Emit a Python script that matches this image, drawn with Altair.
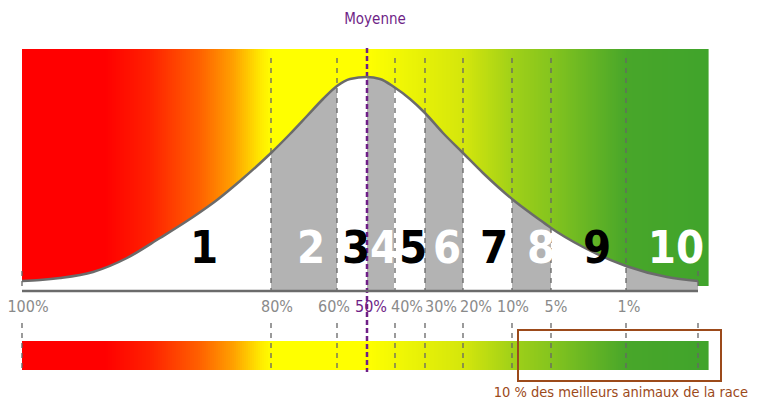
import altair as alt
import pandas as pd

# ---- data (x: horizontal position units, y: height above baseline) ----
curve_px = [22, 40, 60, 93, 127, 160, 193, 217, 240, 257, 271, 290, 307, 323, 337, 350, 367,
            380, 394, 410, 425, 443, 463, 483, 512, 540, 551, 583, 626, 667, 698]
curve_py = [281, 280, 278, 272, 258, 238, 217, 200, 181, 166, 153, 134, 116, 99, 86, 79, 77,
            79, 87, 99, 113, 133, 153, 173, 199, 220, 228, 247, 266, 277, 281]
curve_x = [p - 22 for p in curve_px]
curve_y = [291 - p for p in curve_py]

boundary_x = [0, 249, 315, 345, 373, 403, 441, 490, 529, 604, 676]
boundary_top = [20, 233, 233, 243, 233, 233, 233, 233, 233, 233, 20]

band_labels = ["1", "2", "3", "4", "5", "6", "7", "8", "9", "10"]
band_label_x = [182, 289, 334, 362, 391, 425, 472, 519, 575, 654]
band_label_color = ["black", "white", "black", "white", "black", "white", "black", "white", "black", "white"]

pct_labels = ["100%", "80%", "60%", "50%", "40%", "30%", "20%", "10%", "5%", "1%"]
pct_label_x = [6, 255, 312, 349, 385, 419, 454, 491, 534, 607]
pct_label_color = ["#8a8a8a", "#8a8a8a", "#8a8a8a", "#6f1f87", "#8a8a8a", "#8a8a8a",
                   "#8a8a8a", "#8a8a8a", "#8a8a8a", "#8a8a8a"]

grad_pos = [0, 82, 126, 176, 210, 237, 249, 343, 441, 490, 529, 604, 686]
grad_col = ["#ff0000", "#ff0000", "#ff2000", "#ff6000", "#ffa000", "#ffe800", "#ffff00",
            "#ffff00", "#d4e60c", "#a0d018", "#84c41e", "#48a62a", "#40a42b"]

mean_label = "Moyenne"
caption = "10 % des meilleurs animaux de la race"

FONT = ("'Liberation Sans Narrow', 'DejaVu Sans Condensed', 'Noto Sans Condensed', "
        "'Roboto Condensed', 'Open Sans Condensed', 'Liberation Sans', sans-serif")
GRAY = "#6b6b6b"
PURPLE = "#6f1f87"
BROWN = "#9c4a1a"

xs = alt.Scale(domain=[-14, 729])
ys = alt.Scale(domain=[-109, 283])

def X(f="x"):
    return alt.X(f, type="quantitative", scale=xs, axis=None)

def Y(f="y"):
    return alt.Y(f, type="quantitative", scale=ys, axis=None)

def YD(v):
    return alt.YDatum(v, scale=ys, axis=None)

# gradient strips (background colour ramp)
STEP = 2
strip_x = list(range(0, 686, STEP))
strips = pd.DataFrame({"x": strip_x, "x2": [v + STEP + 0.6 for v in strip_x]})
cscale = alt.Scale(domain=grad_pos, range=grad_col, interpolate="rgb")

top_rect = alt.Chart(strips).mark_rect(strokeWidth=0).encode(
    x=X(), x2="x2", y=YD(5), y2=alt.datum(242),
    color=alt.Color("x:Q", scale=cscale, legend=None))
bottom_rect = alt.Chart(strips).mark_rect(strokeWidth=0).encode(
    x=X(), x2="x2", y=YD(-50), y2=alt.datum(-79),
    color=alt.Color("x:Q", scale=cscale, legend=None))

curve = pd.DataFrame({"x": curve_x, "y": curve_y})

band_rows = []
for i in range(1, 10, 2):
    lo, hi = boundary_x[i], boundary_x[i + 1]
    for cx, cy in zip(curve_x, curve_y):
        if lo <= cx <= hi:
            band_rows.append({"band": band_labels[i], "x": cx, "y": cy})
bands = pd.DataFrame(band_rows)

lines = pd.DataFrame({"x": boundary_x, "top": boundary_top})
gray_lines = lines.drop(index=3)
purple_line = lines.loc[[3]]

nums = pd.DataFrame({"x": band_label_x, "t": band_labels, "c": band_label_color})
pcts = pd.DataFrame({"x": pct_label_x, "t": pct_labels, "c": pct_label_color})

white_area = alt.Chart(curve).mark_area(color="white", interpolate="monotone").encode(
    x=X(), y=Y(), y2=alt.datum(0))
gray_area = alt.Chart(bands).mark_area(color="#b3b3b3", interpolate="monotone").encode(
    x=X(), y=Y(), y2=alt.datum(0), detail="band:N")

top_dash = alt.Chart(gray_lines).mark_rule(color="#666666", strokeWidth=1.3, strokeDash=[5, 5]).encode(
    x=X(), y=Y("top"), y2=alt.datum(0))
bot_dash = alt.Chart(gray_lines).mark_rule(color="#666666", strokeWidth=1.3, strokeDash=[5, 5]).encode(
    x=X(), y=YD(-32), y2=alt.datum(-81))
purple_rule = alt.Chart(purple_line).mark_rule(color=PURPLE, strokeWidth=2.5, strokeDash=[5, 3]).encode(
    x=X(), y=Y("top"), y2=alt.datum(-81))

curve_line = alt.Chart(curve).mark_line(color=GRAY, strokeWidth=2.5, interpolate="monotone").encode(
    x=X(), y=Y())
axis_line = alt.Chart(pd.DataFrame({"x": [0], "x2": [676]})).mark_rule(color=GRAY, strokeWidth=2.5).encode(
    x=X(), x2="x2", y=YD(0))

num_text = alt.Chart(nums).mark_text(font=FONT, fontWeight="bold", fontSize=45, baseline="middle").encode(
    x=X(), y=YD(42), text="t:N", color=alt.Color("c:N", scale=None))
pct_text = alt.Chart(pcts).mark_text(font=FONT, fontSize=16, baseline="middle").encode(
    x=X(), y=YD(-16), text="t:N", color=alt.Color("c:N", scale=None))

mean_text = alt.Chart(pd.DataFrame({"x": [353], "t": [mean_label]})).mark_text(
    font=FONT, fontSize=15, color=PURPLE, baseline="middle").encode(x=X(), y=YD(272), text="t:N")

box = alt.Chart(pd.DataFrame({"x": [496], "x2": [699], "y": [-39], "y2": [-90]})).mark_rect(
    filled=False, stroke=BROWN, strokeWidth=2).encode(x=X(), x2="x2", y=Y(), y2="y2")
cap_text = alt.Chart(pd.DataFrame({"x": [726], "t": [caption]})).mark_text(
    font=FONT, fontSize=14.5, color=BROWN, baseline="middle", align="right").encode(
    x=X(), y=YD(-102), text="t:N")

chart = alt.layer(
    top_rect, bottom_rect, white_area, gray_area, top_dash, bot_dash, purple_rule,
    curve_line, axis_line, num_text, pct_text, mean_text, box, cap_text,
).resolve_scale(color="independent").properties(
    width=743, height=392, padding=0, autosize=alt.AutoSizeParams(type="none"),
).configure_view(stroke=None)

chart.save("out.html", embed_options={"renderer": "svg", "actions": False})
